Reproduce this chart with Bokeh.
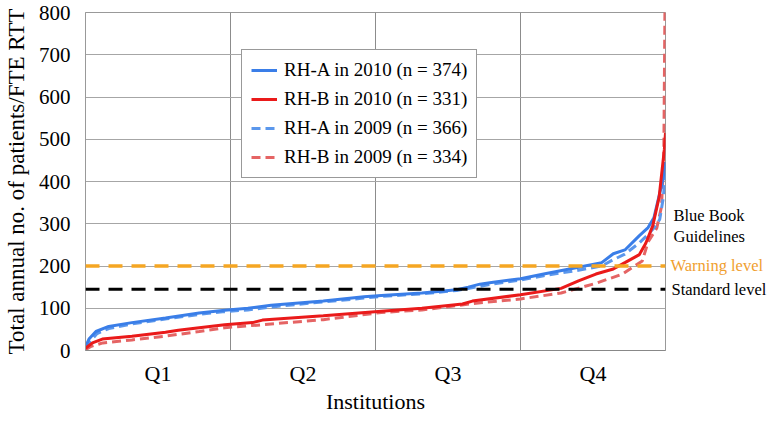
from bokeh.plotting import figure
from bokeh.layouts import row
from bokeh.models import Range1d, FixedTicker, Span, Legend, LegendItem
from bokeh.core.properties import value
from bokeh.embed import file_html
from bokeh.resources import INLINE

# ---- data (x = institution percentile rank, %, y = patients / FTE RTT) ----
a2010_x = [0, 0.6, 1.8, 4, 8, 13.8, 19.6, 24, 28, 32, 41, 48, 51, 58, 64, 66, 68, 70, 75, 79, 85, 89, 91, 93, 95.5, 97, 98, 99.5, 100]
a2010_y = [9, 27, 45, 57, 66, 77, 89, 95, 100, 107, 117, 127, 130, 136, 144, 150, 157, 161, 170, 181, 197, 208, 229, 238, 272, 291, 314, 401, 446]

b2010_x = [0, 1.2, 2.9, 8, 13.8, 16, 19.6, 24, 28.8, 30.5, 41, 51, 58, 65, 66.7, 75, 82, 85, 88, 91, 93, 95.5, 96.6, 97.8, 98.9, 99.8, 100]
b2010_y = [5, 18, 27, 34, 43, 48, 54, 61, 66, 72, 82, 93, 100, 110, 117, 132, 147, 165, 181, 193, 208, 227, 254, 295, 363, 476, 515]

a2009_x = [0, 0.8, 2, 4, 8, 14, 20, 24, 28, 32, 41, 48, 51, 58, 64, 70, 75, 79, 85, 89, 91, 93, 95.5, 97, 98, 99, 99.6, 100]
a2009_y = [5, 22, 40, 52, 63, 75, 86, 92, 96, 103, 115, 124, 128, 134, 142, 157, 167, 177, 190, 200, 215, 228, 255, 275, 290, 310, 360, 420]

b2009_x = [0, 1, 3, 8, 13.8, 19.6, 24, 30.5, 41, 51, 58, 66.7, 75, 82, 88, 92.6, 96, 97, 98.5, 99.3, 99.7, 99.9, 100]
b2009_y = [2, 10, 18, 25, 34, 45, 54, 61, 73, 90, 96, 111, 122, 136, 159, 181, 212, 257, 290, 340, 450, 800, 900]

quarter_ticks = [12.5, 37.5, 62.5, 87.5]
quarter_labels = ["Q1", "Q2", "Q3", "Q4"]
quarter_bounds = [25, 50, 75]
y_ticks = [0, 100, 200, 300, 400, 500, 600, 700, 800]

warning_level = 200
standard_level = 145

series_labels = ["RH-A in 2010 (n = 374)", "RH-B in 2010 (n = 331)",
                 "RH-A in 2009 (n = 366)", "RH-B in 2009 (n = 334)"]

side_texts = ["Blue Book", "Guidelines", "Warning level", "Standard level"]
side_y = [320, 270, 202, 145]
side_colors = ["black", "black", "#f0a030", "black"]
side_dx = [6, 6, 3, 4]

SERIF = "Liberation Serif"
TOP = 12
FRAME_H = 338

p = figure(frame_width=580, frame_height=FRAME_H, x_range=Range1d(0, 100), y_range=Range1d(0, 800),
           output_backend="svg", toolbar_location=None,
           min_border_left=75, min_border_right=2, min_border_top=TOP, min_border_bottom=20)

p.background_fill_color = "white"
p.outline_line_color = "#999999"

# axes
p.xaxis.ticker = FixedTicker(ticks=quarter_ticks)
p.xaxis.major_label_overrides = {t: l for t, l in zip(quarter_ticks, quarter_labels)}
p.yaxis.ticker = FixedTicker(ticks=y_ticks)
for ax in (p.xaxis[0], p.yaxis[0]):
    ax.major_tick_line_color = None
    ax.minor_tick_line_color = None
    ax.major_label_text_font = SERIF
    ax.axis_label_text_font = SERIF
    ax.axis_label_text_font_style = "normal"
    ax.major_label_text_color = "black"
    ax.axis_label_text_color = "black"
p.xaxis.axis_line_color = "#888888"
p.yaxis.axis_line_color = "#999999"
p.xaxis.major_label_text_font_size = "22px"
p.yaxis.major_label_text_font_size = "21px"
p.xaxis.axis_label = "Institutions"
p.yaxis.axis_label = "Total annual no. of patients/FTE RTT"
p.xaxis.axis_label_text_font_size = "22px"
p.yaxis.axis_label_text_font_size = "23px"
p.xaxis.major_label_standoff = 4
p.xaxis.axis_label_standoff = 0
p.yaxis.major_label_standoff = 9
p.yaxis.axis_label_standoff = 7

# grids
p.xgrid.ticker = FixedTicker(ticks=quarter_bounds)
p.xgrid.grid_line_color = "#8c8c8c"
p.xgrid.grid_line_width = 1
p.ygrid.grid_line_color = "#a6a6a6"
p.ygrid.grid_line_width = 1

# reference levels
p.add_layout(Span(location=warning_level, dimension="width", line_color="#f5a623",
                  line_width=3.5, line_dash="14 9"))
p.add_layout(Span(location=standard_level, dimension="width", line_color="black",
                  line_width=3, line_dash="14 9"))

# curves
rb09 = p.line(b2009_x, b2009_y, line_color="#e56464", line_width=3, line_dash="9 5")
ra09 = p.line(a2009_x, a2009_y, line_color="#5b97ec", line_width=3, line_dash="9 5")
ra10 = p.line(a2010_x, a2010_y, line_color="#3a7ee8", line_width=3)
rb10 = p.line(b2010_x, b2010_y, line_color="#ea1a1a", line_width=3)

legend = Legend(items=[LegendItem(label=series_labels[0], renderers=[ra10]),
                       LegendItem(label=series_labels[1], renderers=[rb10]),
                       LegendItem(label=series_labels[2], renderers=[ra09]),
                       LegendItem(label=series_labels[3], renderers=[rb09])],
                location=(156, FRAME_H - 28 - 138))
legend.label_text_font = SERIF
legend.label_text_font_size = "19px"
legend.label_text_color = "black"
legend.border_line_color = "#333333"
legend.border_line_width = 1.5
legend.background_fill_alpha = 1
legend.padding = 9
legend.spacing = 7
legend.margin = 0
legend.glyph_width = 26
legend.label_standoff = 7
p.add_layout(legend, "center")

# right-side annotation panel sharing the y scale
p2 = figure(frame_width=100, frame_height=FRAME_H, x_range=Range1d(0, 100), y_range=p.y_range,
            x_axis_type=None, y_axis_type=None, output_backend="svg", toolbar_location=None,
            min_border_left=0, min_border_right=0, min_border_top=TOP, min_border_bottom=20)
p2.outline_line_color = None
p2.grid.visible = False
for t, yv, c, dx in zip(side_texts, side_y, side_colors, side_dx):
    p2.text(x=[0], y=[yv], text=[t], x_offset=dx, text_font=value(SERIF),
            text_font_size="16.5px", text_color=c, text_baseline="middle", text_align="left")

layout = row(p, p2)
open("out.html", "w").write(file_html(layout, INLINE))
